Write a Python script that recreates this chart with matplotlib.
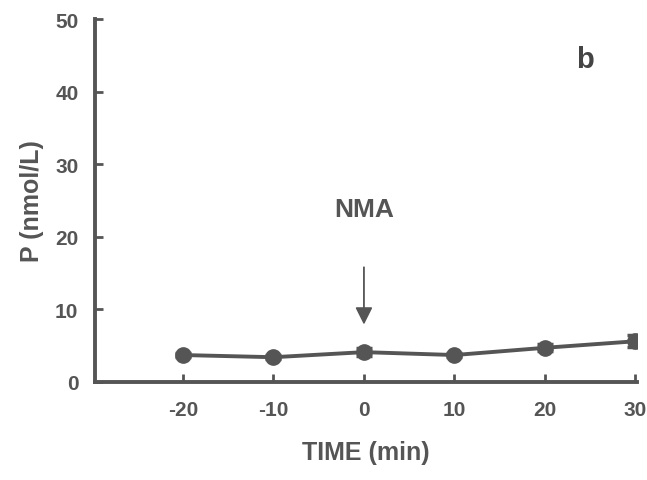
import matplotlib
matplotlib.use("Agg")
import matplotlib.pyplot as plt

# Werte
time_min = [-20, -10, 0, 10, 20, 30]
p_nmol = [3.7, 3.4, 4.1, 3.7, 4.7, 5.6]
p_err = [0.3, 0.3, 0.6, 0.3, 0.5, 0.8]
x_ticks = [-20, -10, 0, 10, 20, 30]
y_ticks = [0, 10, 20, 30, 40, 50]

GREY = "#555555"
plt.rcParams["font.family"] = ["Liberation Sans", "DejaVu Sans"]
plt.rcParams["font.weight"] = "bold"
plt.rcParams["axes.unicode_minus"] = False

fig = plt.figure(figsize=(6.47, 4.81), dpi=100)
ax = fig.add_axes([0.147, 0.204, 0.838, 0.754])

ax.errorbar(time_min, p_nmol, yerr=p_err, color=GREY, marker="o",
            markersize=11, linewidth=2.8, elinewidth=2.5, capsize=6,
            capthick=2.5, zorder=3)

ax.set_xlim(-29.7, 30.2)
ax.set_ylim(0, 50)
ax.set_xticks(x_ticks)
ax.set_yticks(y_ticks)

for side in ("top", "right"):
    ax.spines[side].set_visible(False)
for side in ("left", "bottom"):
    ax.spines[side].set_color(GREY)
    ax.spines[side].set_linewidth(2.8)

ax.tick_params(direction="in", length=6, width=2, color=GREY,
               labelcolor=GREY, labelsize=15)
ax.tick_params(axis="x", pad=13)
ax.tick_params(axis="y", pad=12)

ax.set_xlabel("TIME (min)", fontsize=18, fontweight="bold", color=GREY, labelpad=15)
ax.set_ylabel("P (nmol/L)", fontsize=18, fontweight="bold", color=GREY, labelpad=8)

# Pfeil + Beschriftung NMA
ax.annotate("", xy=(0, 7.9), xytext=(0, 15.8),
            arrowprops=dict(arrowstyle="-|>", color=GREY, lw=1.3,
                            mutation_scale=26, shrinkA=0, shrinkB=0))
ax.text(0, 23.8, "NMA", ha="center", va="center", fontsize=19,
        fontweight="bold", color=GREY)
ax.text(24.4, 44.5, "b", ha="center", va="center", fontsize=21,
        fontweight="bold", color="#444444")

fig.savefig("out.png", dpi=100)
